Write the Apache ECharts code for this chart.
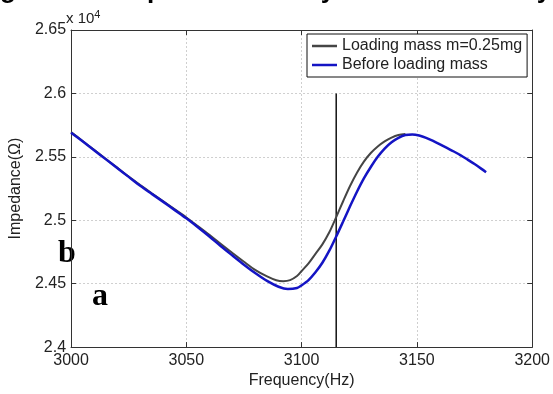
<!DOCTYPE html>
<html>
<head>
<meta charset="utf-8">
<script src="https://cdn.jsdelivr.net/npm/echarts@6/dist/echarts.min.js"></script>
<style>
html,body{margin:0;padding:0;background:#fff;}
#c{width:553px;height:394px;}
</style>
</head>
<body>
<div id="c"></div>
<script>
const freqLoaded = [3000,3005,3010,3015,3020,3025,3030,3035,3040,3045,3050,3055,3060,3065,3070,3075,3080,3085,3089,3092,3095,3098,3100,3103,3106,3109,3112,3115,3118,3121,3124,3127,3130,3133,3136,3139,3142,3145];
const impLoaded = [25695,25625,25555,25485,25415,25345,25278,25213,25150,25086,25022,24954,24885,24813,24742,24673,24607,24557,24527,24520,24528,24560,24600,24660,24735,24810,24905,25025,25150,25270,25375,25462,25530,25582,25622,25652,25672,25680];

const freqBefore = [3000,3005,3010,3015,3020,3025,3030,3035,3040,3045,3050,3055,3060,3065,3070,3075,3080,3085,3090,3094,3098,3100,3103,3106,3109,3112,3115,3118,3121,3124,3127,3130,3133,3136,3139,3142,3145,3148,3151,3154,3157,3160,3163,3166,3169,3172,3175,3178,3180];
const impBefore = [25690,25622,25552,25482,25412,25342,25272,25208,25145,25080,25015,24945,24872,24795,24722,24650,24582,24522,24476,24458,24466,24487,24528,24590,24665,24760,24872,24990,25110,25225,25330,25420,25500,25565,25615,25650,25672,25676,25668,25650,25625,25598,25570,25542,25512,25478,25443,25405,25378];

const markerFreq = [3115, 3115];
const markerImp = [24000, 26000];

const seriesNames = ['Loading mass m=0.25mg', 'Before loading mass'];
const xTicks = [3000, 3050, 3100, 3150, 3200];
const yTicks = [24000, 24500, 25000, 25500, 26000, 26500];

const zip = (a, b) => a.map((v, i) => [v, b[i]]);
const FONT = '"Liberation Sans", Arial, sans-serif';
const TXT = '#222';

const chart = echarts.init(document.getElementById('c'), null, {renderer: 'canvas'});
const axisLineStyle = {color: '#333', width: 1};
const split = {show: true, lineStyle: {color: '#cfcfcf', type: [2, 2], width: 1}};

chart.setOption({
  animation: false,
  backgroundColor: '#fff',
  grid: {left: 68, right: 20, top: 30, bottom: 39, containLabel: false},
  legend: {
    data: seriesNames,
    orient: 'vertical',
    left: 307, top: 34,
    padding: [3, 5, 3, 5],
    itemGap: 1,
    icon: 'rect',
    itemWidth: 25, itemHeight: 2.5,
    borderColor: '#111', borderWidth: 1,
    backgroundColor: '#fff',
    textStyle: {fontFamily: FONT, fontSize: 16, color: TXT, lineHeight: 18}
  },
  xAxis: [{
    type: 'value', min: xTicks[0], max: xTicks[xTicks.length - 1], interval: 50,
    name: 'Frequency(Hz)', nameLocation: 'middle', nameGap: 23,
    nameTextStyle: {fontFamily: FONT, fontSize: 16, color: TXT},
    axisLine: {show: true, lineStyle: axisLineStyle},
    axisTick: {show: true, inside: true, length: 5, lineStyle: axisLineStyle},
    axisLabel: {fontFamily: FONT, fontSize: 16, color: TXT, margin: 5, formatter: v => String(v)},
    splitLine: split
  }, {
    type: 'value', position: 'top', min: xTicks[0], max: xTicks[xTicks.length - 1], interval: 50,
    axisLine: {show: true, onZero: false, lineStyle: axisLineStyle},
    axisTick: {show: true, inside: true, length: 5, lineStyle: axisLineStyle},
    axisLabel: {show: false}, splitLine: {show: false}
  }],
  yAxis: [{
    type: 'value', min: yTicks[0], max: yTicks[yTicks.length - 1], interval: 500,
    name: 'Impedance(\u03A9)', nameLocation: 'middle', nameGap: 37, nameRotate: 90,
    nameTextStyle: {fontFamily: FONT, fontSize: 16, color: TXT},
    axisLine: {show: true, lineStyle: axisLineStyle},
    axisTick: {show: true, inside: true, length: 5, lineStyle: axisLineStyle},
    axisLabel: {fontFamily: FONT, fontSize: 16, color: TXT, margin: 5,
      formatter: v => String(+(v / 10000).toFixed(2))},
    splitLine: split
  }, {
    type: 'value', position: 'right', min: yTicks[0], max: yTicks[yTicks.length - 1], interval: 500,
    axisLine: {show: true, onZero: false, lineStyle: axisLineStyle},
    axisTick: {show: true, inside: true, length: 5, lineStyle: axisLineStyle},
    axisLabel: {show: false}, splitLine: {show: false}
  }],
  series: [{
    name: seriesNames[0], type: 'line', symbol: 'none', smooth: 0.3,
    data: zip(freqLoaded, impLoaded),
    lineStyle: {color: '#454545', width: 2},
    itemStyle: {color: '#454545'},
    z: 3
  }, {
    name: seriesNames[1], type: 'line', symbol: 'none', smooth: 0.3,
    data: zip(freqBefore, impBefore),
    lineStyle: {color: '#1414c4', width: 2.5},
    itemStyle: {color: '#1414c4'},
    z: 4
  }, {
    name: 'marker', type: 'line', symbol: 'none',
    data: zip(markerFreq, markerImp),
    lineStyle: {color: '#111', width: 1.5},
    z: 2
  }],
  graphic: [
    {type: 'text', left: 66, top: 9, style: {
      text: 'x 10{s|4}', font: '15px ' + FONT, fill: TXT,
      rich: {s: {fontSize: 11, fontFamily: FONT, fill: TXT, verticalAlign: 'top', padding: [0, 0, 8, 0]}}
    }},
    {type: 'text', x: 67, y: 254, style: {text: 'b', font: 'bold 32px "Liberation Serif", "Times New Roman", serif', fill: '#000', align: 'center', verticalAlign: 'middle'}},
    {type: 'text', x: 100, y: 297, style: {text: 'a', font: 'bold 32px "Liberation Serif", "Times New Roman", serif', fill: '#000', align: 'center', verticalAlign: 'middle'}},
    {type: 'text', x: 8, y: 4, style: {text: 'g', font: 'bold 26px ' + FONT, fill: '#000', align: 'center', verticalAlign: 'bottom'}},
    {type: 'text', x: 155, y: 4, style: {text: 'p', font: 'bold 26px ' + FONT, fill: '#000', align: 'center', verticalAlign: 'bottom'}},
    {type: 'text', x: 328, y: 4, style: {text: 'y', font: 'bold 26px ' + FONT, fill: '#000', align: 'center', verticalAlign: 'bottom'}},
    {type: 'text', x: 544, y: 4, style: {text: 'y', font: 'bold 26px ' + FONT, fill: '#000', align: 'center', verticalAlign: 'bottom'}}
  ]
});
</script>
</body>
</html>
